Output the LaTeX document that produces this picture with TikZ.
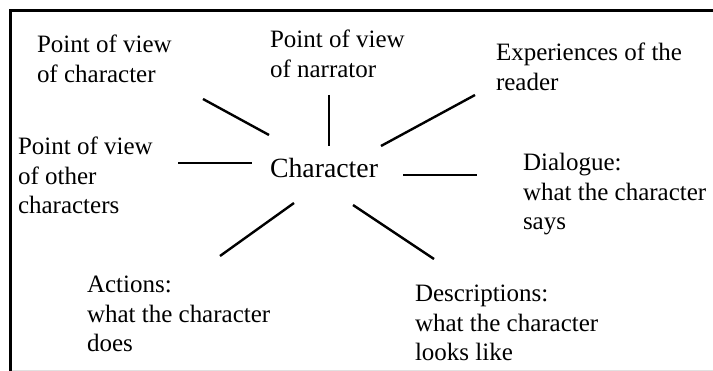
\documentclass[tikz,border=0pt]{standalone}
\usepackage{fontspec}
\setmainfont{Liberation Serif}
\begin{document}
\begin{tikzpicture}[x=1pt,y=-1pt,
  lbl/.style={anchor=base west,inner sep=0pt,outer sep=0pt,
    font=\fontsize{25}{29.5}\selectfont},
  spoke/.style={line width=2.4pt},
  frameline/.style={line width=2.7pt}]
\useasboundingbox (0,0) rectangle (713,371);
% frame
\draw[frameline] (713,10.3) -- (10.3,10.3) -- (10.3,371);
\draw[line width=1pt,black!12] (11.7,370.3) -- (713,370.3);
% labels
\node[lbl] (pvc) at (37,53) {\begin{tabular}[t]{@{}l@{}}Point of view\\of character\end{tabular}};
\node[lbl] (pvn) at (270,48) {\begin{tabular}[t]{@{}l@{}}Point of view\\of narrator\end{tabular}};
\node[lbl] (exp) at (496,61) {\begin{tabular}[t]{@{}l@{}}Experiences of the\\reader\end{tabular}};
\node[lbl] (pvo) at (18,155) {\begin{tabular}[t]{@{}l@{}}Point of view\\of other\\characters\end{tabular}};
\node[lbl,font=\fontsize{27.8}{32}\selectfont] (ch) at (270,178) {Character};
\node[lbl] (dia) at (523,171) {\begin{tabular}[t]{@{}l@{}}Dialogue:\\what the character\\says\end{tabular}};
\node[lbl] (act) at (87,293) {\begin{tabular}[t]{@{}l@{}}Actions:\\what the character\\does\end{tabular}};
\node[lbl] (des) at (415,302) {\begin{tabular}[t]{@{}l@{}}Descriptions:\\what the character\\looks like\end{tabular}};
% spoke end points
\coordinate (a1) at (203,99);  \coordinate (a2) at (269,135);
\coordinate (b1) at (329,95);  \coordinate (b2) at (329,146);
\coordinate (c1) at (381,146); \coordinate (c2) at (475,95);
\coordinate (d1) at (178,163); \coordinate (d2) at (252,163);
\coordinate (e1) at (403,175); \coordinate (e2) at (477,175);
\coordinate (f1) at (220,256); \coordinate (f2) at (294,203);
\coordinate (g1) at (353,205); \coordinate (g2) at (434,259);
\draw[spoke] (a1) -- (a2);
\draw[spoke] (b1) -- (b2);
\draw[spoke] (c1) -- (c2);
\draw[spoke] (d1) -- (d2);
\draw[spoke] (e1) -- (e2);
\draw[spoke] (f1) -- (f2);
\draw[spoke] (g1) -- (g2);
\end{tikzpicture}
\end{document}
